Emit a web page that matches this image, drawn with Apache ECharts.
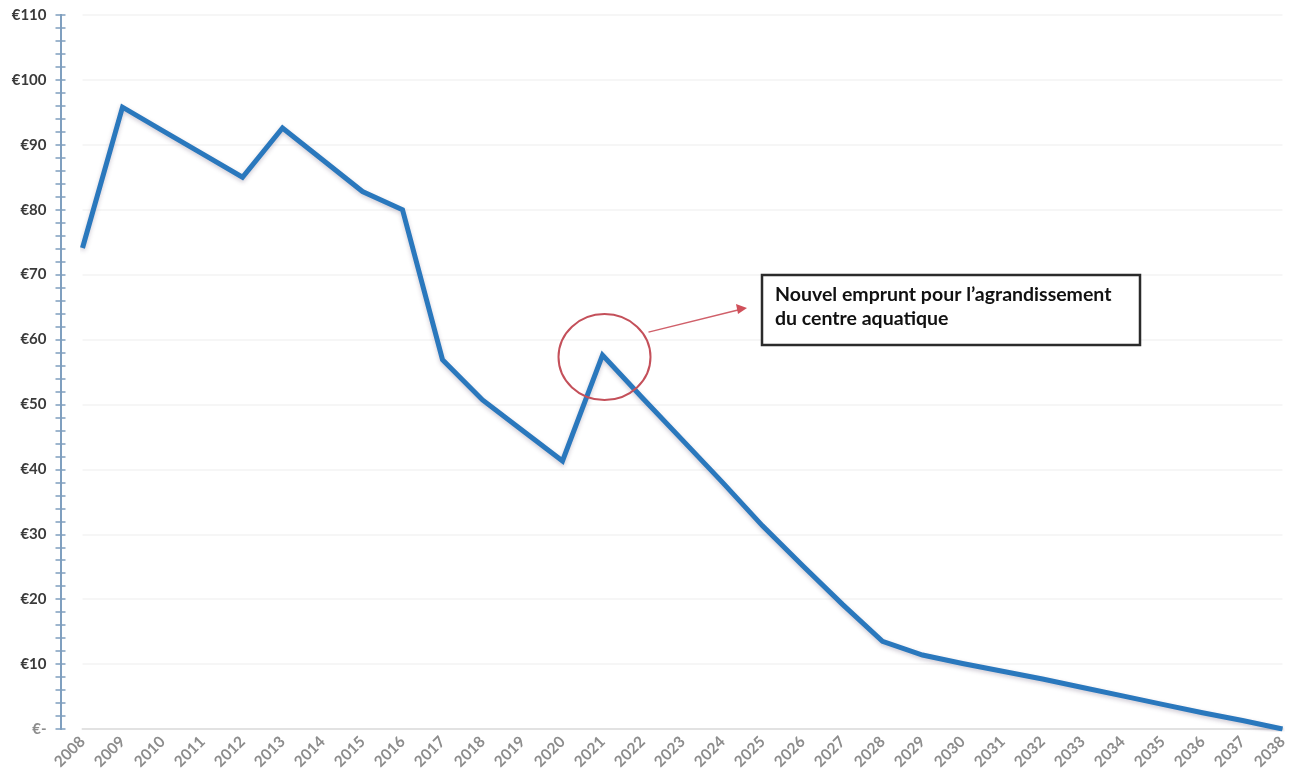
<!DOCTYPE html>
<html><head><meta charset="utf-8">
<script src="https://cdn.jsdelivr.net/npm/echarts@6/dist/echarts.min.js"></script>
<style>html,body{margin:0;padding:0;background:#fff}#c{width:1291px;height:780px}</style>
</head><body><div id="c"></div>
<script>
const years = ['2008','2009','2010','2011','2012','2013','2014','2015','2016','2017','2018','2019','2020','2021','2022','2023','2024','2025','2026','2027','2028','2029','2030','2031','2032','2033','2034','2035','2036','2037','2038'];
const values = [74.1,95.8,92.2,88.6,85.0,92.6,87.7,82.8,80.0,56.9,50.7,46.0,41.3,57.6,51.0,44.5,38.0,31.3,25.2,19.2,13.5,11.4,10.1,8.9,7.7,6.4,5.1,3.8,2.5,1.3,0.0];
const yTicks = [0,10,20,30,40,50,60,70,80,90,100,110];
const noteYear = '2021';
const noteText = "Nouvel emprunt pour l\u2019agrandissement\ndu centre aquatique";

const axisBlue = '#7f9fbf';
const chart = echarts.init(document.getElementById('c'));
const yBase = {
  type:'value', min:yTicks[0], max:yTicks[yTicks.length-1], interval:10, offset:22,
  axisLine:{show:true,lineStyle:{color:axisBlue,width:2}},
  splitLine:{show:false}
};
chart.setOption({
  animation:false,
  grid:{left:82.5,right:8.5,top:15,bottom:51,containLabel:false},
  xAxis:{type:'category',data:years,boundaryGap:false,
    axisLine:{lineStyle:{color:'#e2e2e2',width:2}},
    axisTick:{show:false},
    axisLabel:{rotate:45,margin:10,color:'#8c8c8c',fontSize:15.5,fontWeight:'bold',fontFamily:'Lato, sans-serif',interval:0}
  },
  yAxis:[
    Object.assign({},yBase,{
      axisTick:{show:true,length:5,lineStyle:{color:axisBlue,width:1.5}},
      minorTick:{show:true,splitNumber:5,length:5,lineStyle:{color:axisBlue,width:1.5}},
      axisLabel:{margin:14,fontSize:15,fontWeight:'bold',fontFamily:'Lato, sans-serif',
        color:function(v){return Number(v)===0?'#8c8c8c':'#3a3a3a';},
        formatter:function(v){return v===0?'\u20ac-':'\u20ac'+v;}},
      splitLine:{show:true,lineStyle:{color:'#f3f3f3',width:1.5}}
    }),
    Object.assign({},yBase,{
      position:'left',
      axisTick:{show:true,inside:true,length:5,lineStyle:{color:axisBlue,width:1.5}},
      minorTick:{show:true,splitNumber:5,length:5,lineStyle:{color:axisBlue,width:1.5}},
      axisLabel:{show:false}
    })
  ],
  series:[{type:'line',data:values,showSymbol:false,symbol:'none',
    lineStyle:{color:'#2a78bd',width:5,shadowColor:'rgba(60,40,80,0.25)',shadowBlur:4,shadowOffsetY:2,join:'miter'}}]
});

const idx = years.indexOf(noteYear);
const p = chart.convertToPixel({gridIndex:0},[idx,values[idx]]);
const cx = p[0]+2, cy = p[1]+2;
chart.setOption({graphic:[
  {type:'ellipse',shape:{cx:cx,cy:cy,rx:46,ry:43},style:{fill:'none',stroke:'#c4505a',lineWidth:2},z:100},
  {type:'line',shape:{x1:cx+44,y1:cy-25,x2:738,y2:310},style:{stroke:'#d0606a',lineWidth:1.5},z:100},
  {type:'polygon',shape:{points:[[747,308],[736,304],[738,314]]},style:{fill:'#d0505a'},z:100},
  {type:'rect',shape:{x:762,y:275,width:378,height:70},style:{fill:'#fff',stroke:'#2b2b2b',lineWidth:2.5},z:100},
  {type:'text',x:775,y:283,style:{text:noteText,fill:'#111',font:'bold 19.5px Lato, sans-serif',lineHeight:24},z:101}
]});
</script></body></html>
